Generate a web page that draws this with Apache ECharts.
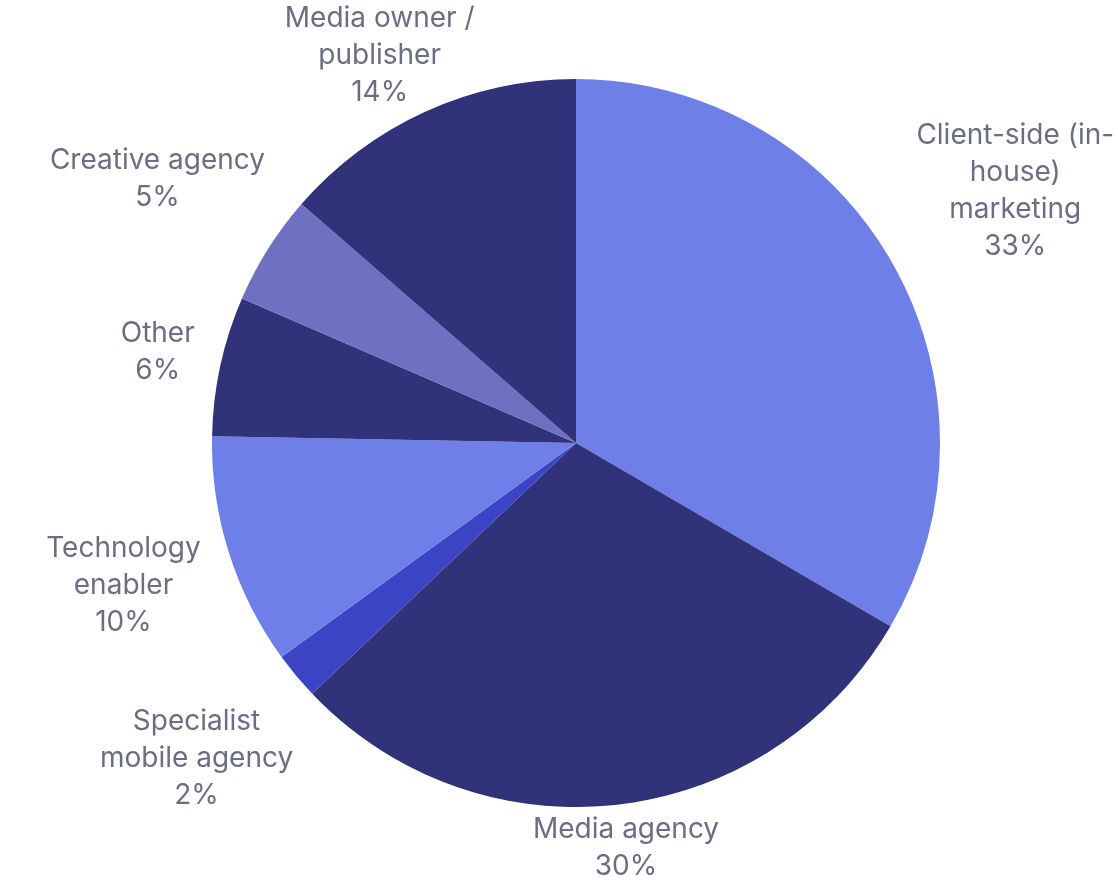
<!DOCTYPE html>
<html>
<head>
<meta charset="utf-8">
<script src="https://cdn.jsdelivr.net/npm/echarts@6/dist/echarts.min.js"></script>
<style>
  html, body { margin: 0; padding: 0; background: #fff; }
  #main { width: 1118px; height: 885px; }
</style>
</head>
<body>
<div id="main"></div>
<script>
var myChart = echarts.init(document.getElementById('main'));

// slice names (with line breaks as in the picture), values and colours
let names = ['Client-side (in-\nhouse)\nmarketing', 'Media agency', 'Specialist\nmobile agency',
             'Technology\nenabler', 'Other', 'Creative agency', 'Media owner /\npublisher'],
    values = [33.4, 29.5, 2.1, 10.3, 6.2, 4.9, 13.6],
    colors = ['#6E7FE8', '#30327A', '#3B44C4', '#6E7FE8', '#30327A', '#6E70C2', '#30327A'];

let cx = 576, cy = 443, R = 364, gap = 20, W = 1118, H = 885;

// mid angle of each slice (clockwise from the top)
let total = values.reduce(function (a, b) { return a + b; }, 0);
let mids = [], acc = 0;
values.forEach(function (v) {
  mids.push((acc + v / 2) / total * Math.PI * 2);
  acc += v;
});

var option = {
  animation: false,
  series: [{
    type: 'pie',
    center: [cx, cy],
    radius: R,
    startAngle: 90,
    clockwise: true,
    avoidLabelOverlap: false,
    label: {
      show: true,
      position: 'outside',
      color: '#6B6E80',
      fontFamily: 'Inter',
      fontSize: 28,
      lineHeight: 37,
      formatter: function (p) {
        return p.name + '\n' + Math.round(p.value) + '%';
      }
    },
    labelLine: { show: false },
    labelLayout: function (p) {
      // push the label box out along the slice's mid ray
      let a = mids[p.dataIndex];
      let ux = Math.sin(a), uy = -Math.cos(a);
      let w = p.labelRect.width, h = p.labelRect.height;
      let d = R + gap + Math.abs(ux) * w / 2 + Math.abs(uy) * h / 2;
      let x = cx + ux * d, y = cy + uy * d;
      y = Math.max(h / 2, Math.min(H - h / 2, y));
      x = Math.max(w / 2, Math.min(W - w / 2, x));
      return { x: x, y: y, align: 'center', verticalAlign: 'middle' };
    },
    data: names.map(function (n, i) {
      return { name: n, value: values[i], itemStyle: { color: colors[i] } };
    })
  }]
};
myChart.setOption(option);
</script>
</body>
</html>
